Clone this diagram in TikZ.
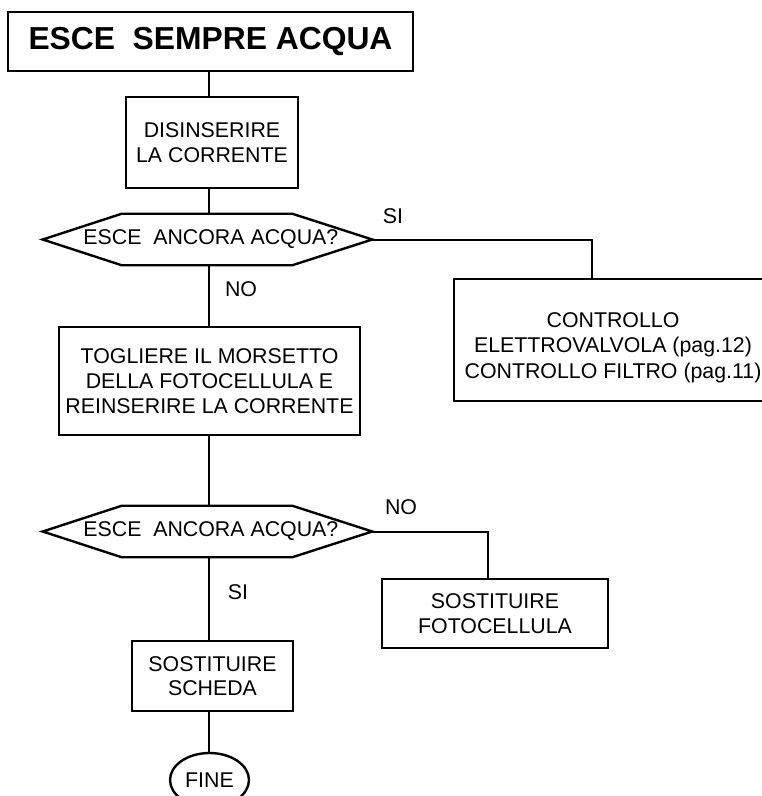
\documentclass[tikz,border=0pt]{standalone}
\usepackage{fontspec}
\setmainfont{Liberation Sans}
\usetikzlibrary{positioning, shapes.geometric, calc}

\begin{document}
\begin{tikzpicture}[
        x=0.75pt, y=-0.75pt, line join=miter,
        every node/.style={font=\fontsize{16}{18.5}\selectfont, inner sep=0pt},
        blok/.style={draw, rectangle, line width=1.8pt, align=center},
        ask/.style={minimum width=246.75pt, minimum height=38.25pt},
        rim/.style={line width=1.8pt},
        link/.style={line width=1.5pt}
        ]
        \useasboundingbox (0,0) rectangle (761,796);
        \coordinate (spine) at (209,0);

        \node[blok, minimum width=303.75pt, minimum height=44.25pt,
              font=\fontsize{23.85}{28}\selectfont\bfseries] (title) at (210.5,41.5) {ESCE\ \ SEMPRE ACQUA};
        \node[blok, minimum width=129pt, minimum height=68.25pt]    (disins) at (212,142.5)  {DISINSERIRE\\LA CORRENTE};
        \node[ask]                                                   (ask1)   at (207.5,239.5) {\makebox[0pt]{\hspace{5pt}ESCE\ \ ANCORA ACQUA?}};
        \node[blok, minimum width=238.5pt, minimum height=91.5pt]   (ctrl)   at (613,340)    {};
        \node[align=center, font=\fontsize{16}{19}\selectfont]      (ctrltx) at (613,347.5)  {CONTROLLO\\ELETTROVALVOLA (pag.12)\\CONTROLLO FILTRO (pag.11)};
        \node[blok, minimum width=225.75pt, minimum height=81pt]    (togli)  at (209.5,381)  {TOGLIERE IL MORSETTO\\DELLA FOTOCELLULA E\\REINSERIRE LA CORRENTE};
        \node[ask]                                                   (ask2)   at (207.5,531.5) {\makebox[0pt]{\hspace{5pt}ESCE\ \ ANCORA ACQUA?}};
        \node[blok, minimum width=169.5pt, minimum height=51.75pt]  (foto)   at (495,613.5)  {SOSTITUIRE\\FOTOCELLULA};
        \node[blok, minimum width=120.75pt, minimum height=52.5pt]  (scheda) at (212.5,676)  {SOSTITUIRE\\SCHEDA};
        \node[draw, ellipse, rim, minimum width=59.25pt, minimum height=40.5pt] (fine) at (209.5,780) {FINE};

        % decision outlines
        \foreach \q in {ask1,ask2}
          \draw[rim] (\q.west) -- ([xshift=59.25pt]\q.north west) -- ([xshift=-60pt]\q.north east)
            -- (\q.east) -- ([xshift=-60pt]\q.south east) -- ([xshift=59.25pt]\q.south west) -- cycle;

        % answers
        \node (si1) at (393,216) {SI};
        \node (no1) at (241,289) {NO};
        \node (no2) at (401,507) {NO};
        \node (si2) at (238,592) {SI};

        \draw[link] (title.south -| spine)  -- (disins.north -| spine);
        \draw[link] (disins.south -| spine) -- (ask1.north -| spine);
        \draw[link] (ask1.south -| spine)   -- (togli.north -| spine);
        \draw[link] (ask1.east) -| ([xshift=-15.75pt]ctrl.north);
        \draw[link] (togli.south -| spine)  -- (ask2.north -| spine);
        \draw[link] (ask2.east) -| ([xshift=-5.25pt]foto.north);
        \draw[link] (ask2.south -| spine)   -- (scheda.north -| spine);
        \draw[link] (scheda.south -| spine) -- (fine.north -| spine);
      \end{tikzpicture}
\end{document}
